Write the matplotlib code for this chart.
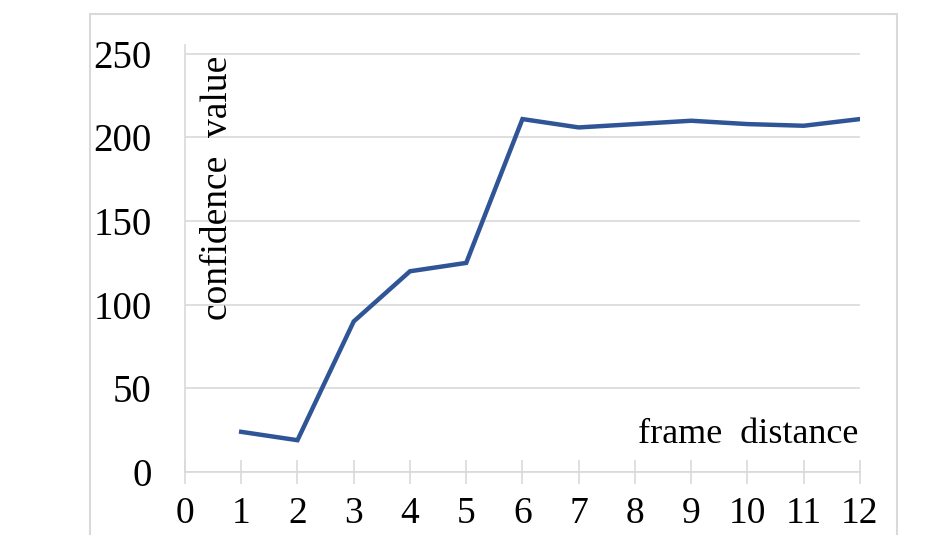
import matplotlib
matplotlib.use("Agg")
import matplotlib.pyplot as plt
from matplotlib.patches import Rectangle

plt.rcParams.update({
    "font.family": ["Liberation Serif", "DejaVu Serif"],
    "font.size": 28,
})

# data
frame_distance = [1, 2, 3, 4, 5, 6, 7, 8, 9, 10, 11, 12]
confidence = [24, 19, 90, 120, 125, 211, 206, 208, 210, 208, 207, 211]
x_ticks = list(range(0, 13))
y_ticks = [0, 50, 100, 150, 200, 250]

LINE_COLOR = "#2F5597"
GRID_COLOR = "#d9d9d9"

fig = plt.figure(figsize=(9.29, 5.35), dpi=100)
ax = fig.add_axes([0.1991, 0.1178, 0.7266, 0.7972])

# outer chart border (Excel style)
fig.patches.append(Rectangle((90 / 929, -0.05), (897 - 90) / 929, 1 - 14 / 535 + 0.05,
                             transform=fig.transFigure, fill=False,
                             edgecolor=GRID_COLOR, linewidth=1.5))

ax.plot(frame_distance, confidence, color=LINE_COLOR, linewidth=3.2,
        solid_joinstyle="miter", zorder=3)

ax.set_xlim(0, 12)
ax.set_ylim(0, 255)
ax.set_xticks(x_ticks)
ax.set_yticks(y_ticks)
ax.yaxis.grid(True, color=GRID_COLOR, linewidth=1.2)
ax.set_axisbelow(True)

for side in ["top", "right"]:
    ax.spines[side].set_visible(False)
for side in ["left", "bottom"]:
    ax.spines[side].set_color(GRID_COLOR)
    ax.spines[side].set_linewidth(1.2)

ax.tick_params(axis="x", direction="inout", length=17, width=1.2,
               color=GRID_COLOR, pad=9, labelsize=27)
ax.tick_params(axis="y", length=0, pad=24, labelsize=28)

ax.text(0.049, 0.665, "confidence  value", transform=ax.transAxes, rotation=90,
        ha="center", va="center", fontsize=27)
ax.text(0.997, 0.087, "frame  distance", transform=ax.transAxes,
        ha="right", va="center", fontsize=26)

fig.savefig("out.png", dpi=100)
